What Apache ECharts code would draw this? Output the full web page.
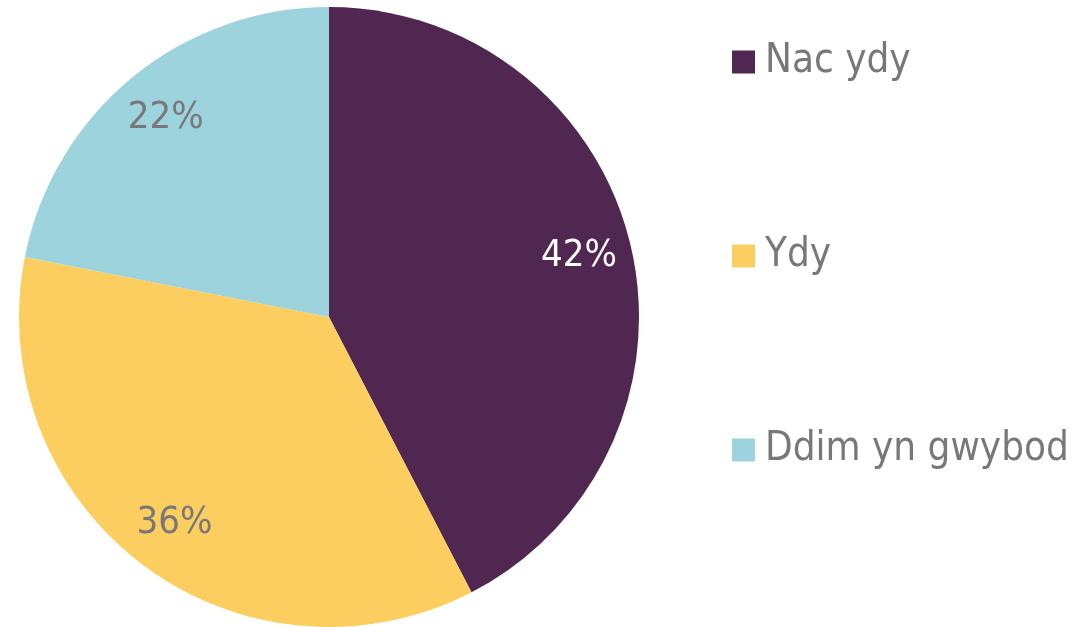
<!DOCTYPE html>
<html>
<head>
<meta charset="utf-8">
<script src="https://cdn.jsdelivr.net/npm/echarts@6/dist/echarts.min.js"></script>
<style>
    html, body { margin: 0; padding: 0; background: #fff; }
    #main { width: 1081px; height: 627px; }
</style>
</head>
<body>
<div id="main"></div>
<script>
    var names = ["Nac ydy", "Ydy", "Ddim yn gwybod"];
    var values = [42.4, 35.7, 21.9];
    var colors = ["#502750", "#FCCE5F", "#9DD3DC"];
    var labelColors = ["#ffffff", "#787878", "#787878"];

    var font = "DejaVu Sans Condensed";
    var R = 310;

    var chart = echarts.init(document.getElementById("main"));

    var base = [], overlay = [];
    for (var i = 0; i < names.length; i++) {
        base.push({ name: names[i], value: values[i], itemStyle: { color: colors[i] } });
        overlay.push({
            name: names[i], value: values[i],
            itemStyle: { color: "rgba(0,0,0,0)" },
            label: { color: labelColors[i] }
        });
    }

    chart.setOption({
        animation: false,
        legend: {
            orient: "vertical",
            left: 727, top: 35,
            itemWidth: 23, itemHeight: 23,
            itemGap: 150,
            icon: "rect",
            data: names,
            textStyle: { fontFamily: font, fontSize: 40, color: "#787878", lineHeight: 44, padding: [0, 0, 0, 5] }
        },
        series: [{
            type: "pie",
            center: [329, 317],
            radius: [0, R],
            startAngle: 90,
            clockwise: true,
            silent: true,
            label: { show: false },
            labelLine: { show: false },
            data: base
        }, {
            type: "pie",
            center: [329, 317],
            radius: [R * 0.64, R],
            startAngle: 90,
            clockwise: true,
            silent: true,
            legendHoverLink: false,
            label: {
                show: true, position: "inside",
                fontFamily: font, fontSize: 38,
                formatter: function (p) { return Math.round(p.value) + "%"; }
            },
            labelLine: { show: false },
            data: overlay
        }]
    });
</script>
</body>
</html>
